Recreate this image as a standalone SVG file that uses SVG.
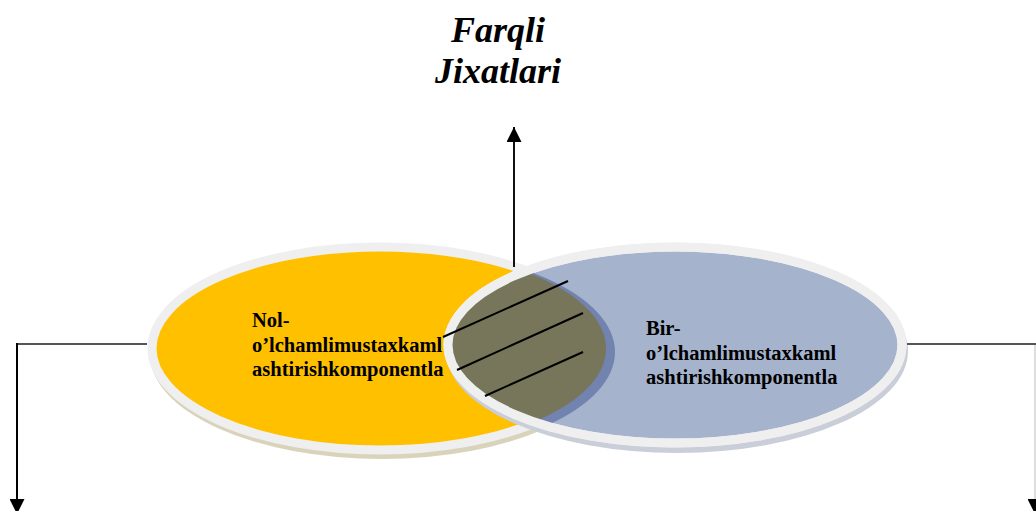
<svg xmlns="http://www.w3.org/2000/svg" width="1036" height="511" viewBox="0 0 1036 511">
<style>
.lbl{font-family:"Liberation Serif","Times New Roman",serif;font-weight:bold;font-size:20.5px;fill:#000}
.title{font-family:"Liberation Serif","Times New Roman",serif;font-weight:bold;font-style:italic;font-size:36px;fill:#000}
.ring{stroke:#EFEFEF;stroke-width:9}
.hatch{stroke:#000;stroke-width:2;fill:none}
</style>
<defs>
<marker id="ah" viewBox="0 0 10 10" refX="10" refY="5" markerWidth="15" markerHeight="15" markerUnits="userSpaceOnUse" orient="auto"><path d="M0,0 L10,5 L0,10 Z" fill="#000"/></marker>
<clipPath id="blueIn"><ellipse cx="675" cy="345" rx="227" ry="98"/></clipPath>
</defs>
<rect width="1036" height="511" fill="#fff"/>
<g id="title"><text class="title" x="498" y="42" text-anchor="middle">Farqli</text><text class="title" x="498" y="83" text-anchor="middle">Jixatlari</text></g>
<g id="node-left">
<ellipse cx="382" cy="354" rx="232" ry="105" fill="#DAD3BC"/>
<ellipse cx="380" cy="348.5" rx="228" ry="101.5" fill="#FFC000" class="ring"/>
</g>
<g id="node-right">
<ellipse cx="677" cy="351" rx="231" ry="102" fill="#C9CED9"/>
<ellipse cx="675" cy="345" rx="227" ry="98" fill="#A5B3CD" class="ring"/>
</g>
<g id="overlap">
<g clip-path="url(#blueIn)">
<ellipse cx="382" cy="352" rx="233" ry="104" fill="#7183AE"/>
<ellipse cx="380" cy="348.5" rx="226" ry="100" fill="#77765A"/>
</g>
<ellipse cx="675" cy="345" rx="227" ry="98" fill="none" class="ring"/>
<line class="hatch" x1="443" y1="337" x2="568" y2="281"/>
<line class="hatch" x1="457" y1="370" x2="583" y2="313"/>
<line class="hatch" x1="485" y1="396" x2="583" y2="352"/>
</g>
<g id="labels">
<text class="lbl" x="252" y="327">Nol-</text>
<text class="lbl" x="252" y="352">o’lchamlimustaxkaml</text>
<text class="lbl" x="252" y="376">ashtirishkomponentla</text>
<text class="lbl" x="646" y="335">Bir-</text>
<text class="lbl" x="646" y="360">o’lchamlimustaxkaml</text>
<text class="lbl" x="646" y="384">ashtirishkomponentla</text>
</g>
<g id="connectors">
<line x1="514" y1="267" x2="514" y2="127" stroke="#111" stroke-width="2" marker-end="url(#ah)"/>
<polyline points="147,344 17,344" fill="none" stroke="#555" stroke-width="2"/>
<line x1="17" y1="343" x2="17" y2="514" stroke="#000" stroke-width="2" marker-end="url(#ah)"/>
<polyline points="907,344 1036,344" fill="none" stroke="#555" stroke-width="2"/>
<line x1="1035" y1="345" x2="1035" y2="514" stroke="#BBB" stroke-width="1" marker-end="url(#ah)"/>
</g>
</svg>
